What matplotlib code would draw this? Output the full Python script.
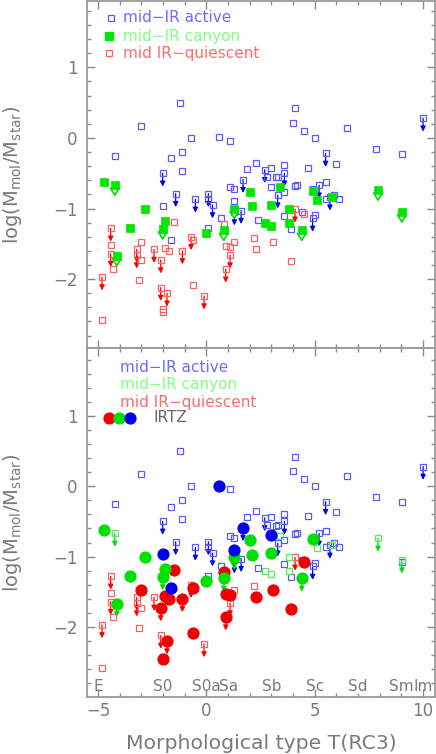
import numpy as np
import matplotlib
matplotlib.use("Agg")
import matplotlib.pyplot as plt
from matplotlib.ticker import MultipleLocator
import matplotlib.transforms as mtransforms

# mid-IR active: T, log(Mmol/Mstar), upper limit flag, IRTZ flag
act_T = [-4.23, -3.02, -1.22, -1.62, -1.12, -0.71, -1.12, 0.58, 1.08, -2.02,
         -1.42, -0.51, 0.09, 0.09, 0.28, -2.02, -1.62, 0.09, 0.68, 1.08,
         1.29, 1.69, 1.89, 2.29, 1.29, 1.29, 1.60, 2.38, 2.69, 2.78,
         3.00, 3.00, 3.20, 3.29, 3.60, 3.60, 3.29, 3.60, 3.60, 3.90,
         4.00, 4.09, 4.49, 5.00, 6.51, 7.82, 9.02, 10.0, 5.50, 6.00,
         4.71, 5.50, 5.20, 4.09, 4.18, 4.90, 5.50, 5.70, 5.90, 6.10,
         5.00, 4.90, 4.40, 9.02]
act_y = [-0.25, 0.175, 0.50, -0.29, -0.20, 0.00, -0.47, 0.01, -0.04, -0.50,
         -0.79, -0.87, -0.79, -0.86, -0.95, -0.96, -1.44, -1.28, -1.13, -0.70,
         -0.73, -0.59, -0.44, -0.35, -0.90, -1.05, -1.03, -1.16, -0.45, -0.55,
         -0.43, -0.69, -0.56, -0.55, -0.39, -0.50, -0.81, -0.76, -1.10, -1.29,
         0.21, 0.42, 0.10, 0.00, 0.14, -0.16, -0.23, 0.28, -0.22, -0.37,
         -0.42, -0.63, -0.67, -0.68, -0.67, -0.73, -0.87, -0.84, -0.81, -0.86,
         -1.09, -1.14, -1.05, -1.08]
act_lim = [0, 0, 0, 0, 0, 0, 0, 0, 0, 1,
           1, 1, 1, 0, 1, 0, 0, 0, 0, 0,
           0, 1, 0, 0, 0, 1, 1, 0, 1, 0,
           0, 0, 0, 0, 0, 1, 1, 0, 0, 0,
           0, 0, 0, 0, 0, 0, 0, 1, 1, 0,
           0, 0, 1, 0, 0, 0, 0, 1, 0, 0,
           0, 1, 0, 0]
act_irtz = [0, 0, 0, 0, 0, 0, 0, 1, 0, 0,
            0, 0, 0, 0, 0, 1, 1, 0, 0, 0,
            0, 1, 0, 0, 1, 0, 0, 0, 0, 0,
            0, 1, 0, 0, 0, 0, 0, 0, 0, 0,
            0, 0, 0, 0, 0, 0, 0, 0, 0, 0,
            0, 0, 0, 0, 0, 0, 0, 0, 0, 0,
            0, 0, 0, 0]

# mid-IR canyon
can_T = [-4.72, -4.23, -4.14, -3.52, -2.83, -2.02, -1.91, 0.00, 0.80, 1.29,
         2.00, 2.09, 2.69, 3.00, 3.00, 3.40, 3.80, 3.80, 4.40, 4.90,
         5.10, 5.80, 7.92, 9.02]
can_y = [-0.62, -0.67, -1.67, -1.27, -1.00, -1.29, -1.17, -1.34, -1.31, -1.00,
         -0.76, -0.97, -1.20, -0.95, -1.25, -0.70, -1.00, -1.21, -1.31, -0.75,
         -0.88, -0.84, -0.74, -1.05]
can_lim = [0, 1, 1, 0, 0, 1, 0, 0, 1, 1,
           0, 0, 0, 0, 0, 0, 0, 0, 1, 0,
           0, 0, 1, 1]
can_irtz = [1, 0, 1, 1, 1, 1, 1, 1, 1, 1,
            1, 1, 0, 1, 0, 0, 0, 0, 1, 1,
            0, 0, 0, 0]

# mid-IR quiescent
qui_T = [-4.82, -4.82, -4.42, -4.42, -4.42, -4.32, -3.22, -3.22, -3.02, -3.02,
         -3.10, -2.42, -2.11, -2.11, -2.02, -2.02, -1.91, -1.71, -1.82, -1.51,
         -1.11, -0.71, -0.62, -0.62, -0.11, 0.80, 0.89, 1.09, 1.29, 0.89,
         1.09, 2.29, 2.20, 3.09, 3.90, 4.09, 4.49]
qui_y = [-2.58, -1.97, -1.28, -1.52, -1.64, -1.86, -1.58, -1.66, -1.48, -1.73,
         -2.01, -1.58, -1.73, -2.12, -2.42, -2.46, -1.56, -1.60, -2.20, -1.19,
         -1.60, -1.40, -1.45, -2.08, -2.24, -1.22, -1.53, -1.54, -1.48, -1.86,
         -1.66, -1.58, -1.42, -1.47, -1.75, -1.01, -1.08]
qui_lim = [0, 1, 1, 0, 1, 0, 1, 1, 0, 0,
           0, 1, 1, 1, 0, 0, 0, 0, 1, 0,
           1, 1, 0, 0, 1, 0, 0, 0, 0, 1,
           1, 0, 0, 0, 0, 1, 0]
qui_irtz = [0, 0, 0, 0, 0, 0, 0, 0, 1, 0,
            0, 0, 1, 0, 0, 1, 1, 1, 1, 1,
            1, 0, 1, 1, 0, 1, 1, 1, 0, 1,
            0, 1, 0, 1, 1, 0, 1]

morph_T = [-5, -2, 0, 1, 3, 5, 7, 9, 10]
morph_lab = ['E', 'S0', 'S0a', 'Sa', 'Sb', 'Sc', 'Sd', 'Sm', 'Im']

GRAY = '#8a8a8a'
BLUE_SQ, BLUE_AR, BLUE_TX, BLUE_C = '#5a5aff', '#0000f0', '#6c6cff', '#0000ee'
GRN_SQ, GRN_AR, GRN_TX, GRN_C, GRN_OPEN = '#00e600', '#00dd00', '#80ff80', '#00e000', '#55ee55'
RED_SQ, RED_AR, RED_TX, RED_C = '#ff6060', '#ff0000', '#ff6c6c', '#ee0000'
ARROW_LEN = 0.19

plt.rcParams['font.family'] = 'DejaVu Sans'
plt.rcParams['mathtext.fontset'] = 'dejavusans'

fig = plt.figure(figsize=(4.36, 7.54), dpi=100)
ax1 = fig.add_axes([0.2002, 0.5381, 0.7975, 0.4606])
ax2 = fig.add_axes([0.2002, 0.0760, 0.7975, 0.4621])


def style(ax, ylim):
    ax.set_xlim(-5.5, 10.55)
    ax.set_ylim(*ylim)
    ax.xaxis.set_major_locator(MultipleLocator(5))
    ax.xaxis.set_minor_locator(MultipleLocator(1))
    ax.yaxis.set_major_locator(MultipleLocator(1))
    ax.yaxis.set_minor_locator(MultipleLocator(0.2))
    ax.tick_params(which='both', direction='in', top=True, right=True,
                   color=GRAY, labelcolor='#7a7a7a', labelsize=12, width=1.0)
    ax.tick_params(which='major', length=6)
    ax.tick_params(which='minor', length=3)
    ax.tick_params(axis='y', pad=7)
    ax.tick_params(axis='x', pad=4)
    for sp in ax.spines.values():
        sp.set_color('#9a9a9a')
        sp.set_linewidth(1.3)
    ax.set_ylabel(r'log(M$_{\mathrm{mol}}$/M$_{\mathrm{star}}$)', fontsize=14,
                  color='#7a7a7a')
    ax.yaxis.set_label_coords(-0.215, 0.5)
    ax.yaxis.label.set_va('center')


def arrows(ax, T, y, lim, color, head=5, lw=0.9, hollow=False):
    for t, v, l in zip(T, y, lim):
        if not l:
            continue
        if hollow:
            ax.annotate('', xy=(t, v - ARROW_LEN + 0.03), xytext=(t, v),
                        arrowprops=dict(arrowstyle='-|>,head_length=0.7,head_width=0.45',
                                        color=color, fc='white', lw=1.2,
                                        mutation_scale=7, shrinkA=0, shrinkB=0),
                        zorder=3)
        else:
            ax.annotate('', xy=(t, v - ARROW_LEN), xytext=(t, v),
                        arrowprops=dict(arrowstyle='-|>,head_length=0.6,head_width=0.3',
                                        color=color, lw=lw,
                                        mutation_scale=head, shrinkA=0, shrinkB=0),
                        zorder=2)


style(ax1, (-2.98, 1.94))
style(ax2, (-2.99, 1.96))
ax1.tick_params(labelbottom=False)

# ---- top panel ----
arrows(ax1, act_T, act_y, act_lim, BLUE_AR)
arrows(ax1, qui_T, qui_y, qui_lim, RED_AR)
ax1.plot(act_T, act_y, 's', ms=4.6, mfc='none', mec=BLUE_SQ, mew=0.9, zorder=2)
ax1.plot(qui_T, qui_y, 's', ms=4.6, mfc='none', mec=RED_SQ, mew=0.9, zorder=2)
arrows(ax1, can_T, can_y, can_lim, GRN_AR, hollow=True)
ax1.plot(can_T, can_y, 's', ms=6.2, mfc=GRN_SQ, mec=GRN_SQ, mew=0.5, zorder=4)

lx, tx = 0.068, 0.103
ax1.plot(lx, 0.951, 's', ms=4.6, mfc='none', mec=BLUE_SQ, mew=0.9, transform=ax1.transAxes)
ax1.plot(lx - 0.006, 0.899, 's', ms=6.2, mfc=GRN_SQ, mec=GRN_SQ, transform=ax1.transAxes)
ax1.plot(lx - 0.006, 0.850, 's', ms=4.0, mfc='none', mec=RED_SQ, mew=0.9, transform=ax1.transAxes)
for yy, txt, c in [(0.951, 'mid\u2212IR active', BLUE_TX),
                   (0.899, 'mid\u2212IR canyon', GRN_TX),
                   (0.850, 'mid IR\u2212quiescent', RED_TX)]:
    ax1.text(tx, yy, txt, color=c, fontsize=11, va='center', ha='left',
             transform=ax1.transAxes)

# ---- bottom panel ----
act_T, act_y = np.array(act_T), np.array(act_y)
can_T, can_y = np.array(can_T), np.array(can_y)
qui_T, qui_y = np.array(qui_T), np.array(qui_y)
ai, ci, qi = np.array(act_irtz, bool), np.array(can_irtz, bool), np.array(qui_irtz, bool)

arrows(ax2, act_T, act_y, act_lim, BLUE_AR)
arrows(ax2, qui_T, qui_y, qui_lim, RED_AR)
arrows(ax2, can_T, can_y, can_lim, GRN_AR)
ax2.plot(act_T[~ai], act_y[~ai], 's', ms=4.6, mfc='none', mec=BLUE_SQ, mew=0.9, zorder=2)
ax2.plot(qui_T[~qi], qui_y[~qi], 's', ms=4.6, mfc='none', mec=RED_SQ, mew=0.9, zorder=2)
ax2.plot(can_T[~ci], can_y[~ci], 's', ms=4.6, mfc='none', mec=GRN_OPEN, mew=0.9, zorder=2)
ax2.plot(qui_T[qi], qui_y[qi], 'o', ms=7.8, mfc=RED_C, mec=RED_C, zorder=4)
ax2.plot(can_T[ci], can_y[ci], 'o', ms=7.8, mfc=GRN_C, mec=GRN_C, zorder=5)
ax2.plot(act_T[ai], act_y[ai], 'o', ms=7.8, mfc=BLUE_C, mec=BLUE_C, zorder=6)

tx2 = 0.094
for yy, txt, c in [(0.946, 'mid\u2212IR active', BLUE_TX),
                   (0.897, 'mid\u2212IR canyon', GRN_TX),
                   (0.845, 'mid IR\u2212quiescent', RED_TX)]:
    ax2.text(tx2, yy, txt, color=c, fontsize=11, va='center', ha='left',
             transform=ax2.transAxes)
for xx, c in [(0.062, RED_C), (0.091, GRN_C), (0.123, BLUE_C)]:
    ax2.plot(xx, 0.800, 'o', ms=7.8, mfc=c, mec=c, transform=ax2.transAxes)
ax2.text(0.189, 0.800, 'IRTZ', color='#666666', fontsize=11, va='center',
         ha='left', transform=ax2.transAxes)

trans = mtransforms.blended_transform_factory(ax2.transData, ax2.transAxes)
for t, lab in zip(morph_T, morph_lab):
    ax2.text(t, 0.015, lab, color='#7a7a7a', fontsize=11, ha='center',
             va='baseline', transform=trans)

ax2.set_xlabel('Morphological type T(RC3)', fontsize=14.7, color='#7a7a7a')
ax2.xaxis.set_label_coords(0.5, -0.133)
ax2.xaxis.label.set_va('center')

fig.savefig('out.png', dpi=100)
